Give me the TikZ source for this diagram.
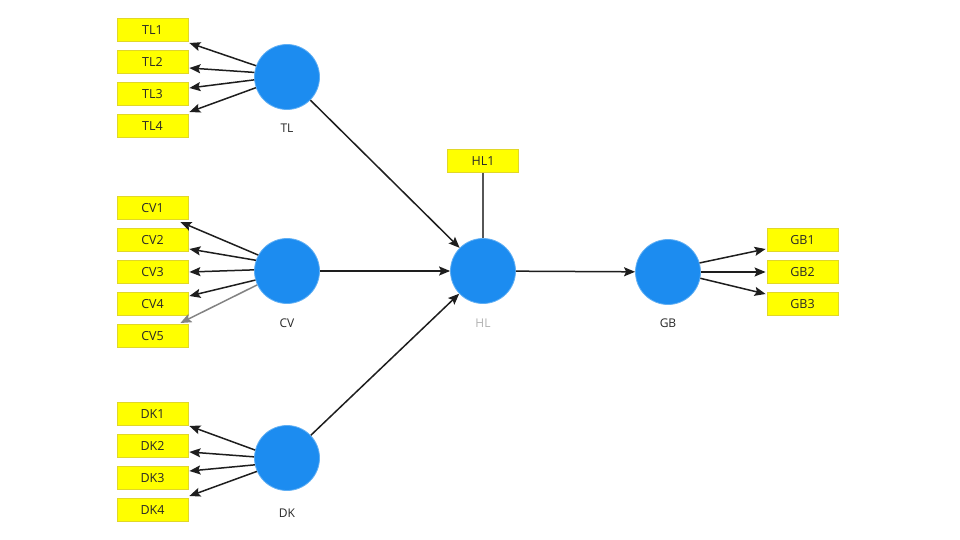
\documentclass[tikz,border=0pt]{standalone}
\usepackage{fontspec}
\setmainfont{Open Sans}
\usetikzlibrary{arrows.meta,calc}
\definecolor{cblue}{RGB}{28,140,240}
\definecolor{cyel}{RGB}{255,255,0}
\definecolor{cyelb}{RGB}{225,215,40}
\definecolor{ctext}{RGB}{40,40,40}
\definecolor{cline}{RGB}{30,30,30}
\tikzset{
  ind/.style={fill=cyel,draw=cyelb,line width=0.8pt,minimum width=71pt,minimum height=23pt,inner sep=0pt,text=ctext,font=\fontsize{12.5}{14}\selectfont},
  lat/.style={circle,fill=cblue,draw=cblue!70!white,line width=0.8pt,minimum size=65pt,inner sep=0pt},
  latlab/.style={text=ctext,font=\fontsize{12}{14}\selectfont},
  arr/.style={draw=cline,line width=1.5pt,-{Stealth[length=11pt,width=9pt,inset=2pt]}},
  plain/.style={draw=cline!75!white,line width=1.5pt}
}
\begin{document}
\begin{tikzpicture}[x=1pt,y=-1pt]
\useasboundingbox[fill=white] (0,0) rectangle (960,540);
% latent variables
\node[lat] (TL) at (287,77) {};
\node[lat] (CV) at (287,271) {};
\node[lat] (DK) at (287,458) {};
\node[lat] (HL) at (483,271) {};
\node[lat] (GB) at (668,272) {};
\node[latlab] (TLl) at (287,128) {TL};
\node[latlab] (CVl) at (287,323) {CV};
\node[latlab] (DKl) at (287,513) {DK};
\node[latlab,text=black!30] (HLl) at (483,323) {HL};
\node[latlab] (GBl) at (668,323) {GB};
% indicators
\node[ind] (TL1) at (152.5,30) {TL1};
\node[ind] (TL2) at (152.5,62) {TL2};
\node[ind] (TL3) at (152.5,94) {TL3};
\node[ind] (TL4) at (152.5,126) {TL4};
\node[ind] (CV1) at (152.5,208) {CV1};
\node[ind] (CV2) at (152.5,240) {CV2};
\node[ind] (CV3) at (152.5,272) {CV3};
\node[ind] (CV4) at (152.5,304) {CV4};
\node[ind] (CV5) at (152.5,336) {CV5};
\node[ind] (DK1) at (152.5,414) {DK1};
\node[ind] (DK2) at (152.5,446) {DK2};
\node[ind] (DK3) at (152.5,478) {DK3};
\node[ind] (DK4) at (152.5,510) {DK4};
\node[ind] (HL1) at (483,161) {HL1};
\node[ind] (GB1) at (802.5,240) {GB1};
\node[ind] (GB2) at (802.5,272) {GB2};
\node[ind] (GB3) at (802.5,304) {GB3};
% structural paths
\draw[arr] (TL) -- (HL);
\draw[arr] (CV) -- (HL);
\draw[arr] (DK) -- (HL);
\draw[arr] (HL) -- (GB);
\draw[plain] (HL1) -- (HL);
% TL indicators
\draw[arr] (TL.160) -- ($(TL1.east)+(1,13)$);
\draw[arr] (TL.172) -- ($(TL2.east)+(1,6)$);
\draw[arr] (TL.185) -- ($(TL3.east)+(1,-6)$);
\draw[arr] (TL.199) -- ($(TL4.east)+(1,-14)$);
% CV indicators
\draw[arr] (CV.151) -- ($(CV1.east)+(-8,14)$);
\draw[arr] (CV.161) -- ($(CV2.east)+(1,9)$);
\draw[arr] (CV.178) -- ($(CV3.east)+(1,0)$);
\draw[arr] (CV.196) -- ($(CV4.east)+(1,-8)$);
\draw[arr,draw=cline!55!white] (CV.205) -- ($(CV5.east)+(-8,-13)$);
% DK indicators
\draw[arr] (DK.166) -- ($(DK1.east)+(1,12)$);
\draw[arr] (DK.178) -- ($(DK2.east)+(1,6)$);
\draw[arr] (DK.192) -- ($(DK3.east)+(1,-7)$);
\draw[arr] (DK.204) -- ($(DK4.east)+(1,-14)$);
% GB indicators
\draw[arr] (GB.16) -- ($(GB1.west)+(-1,9)$);
\draw[arr] (GB.0) -- ($(GB2.west)+(-1,0)$);
\draw[arr] (GB.-11) -- ($(GB3.west)+(-1,-10)$);
\end{tikzpicture}
\end{document}
